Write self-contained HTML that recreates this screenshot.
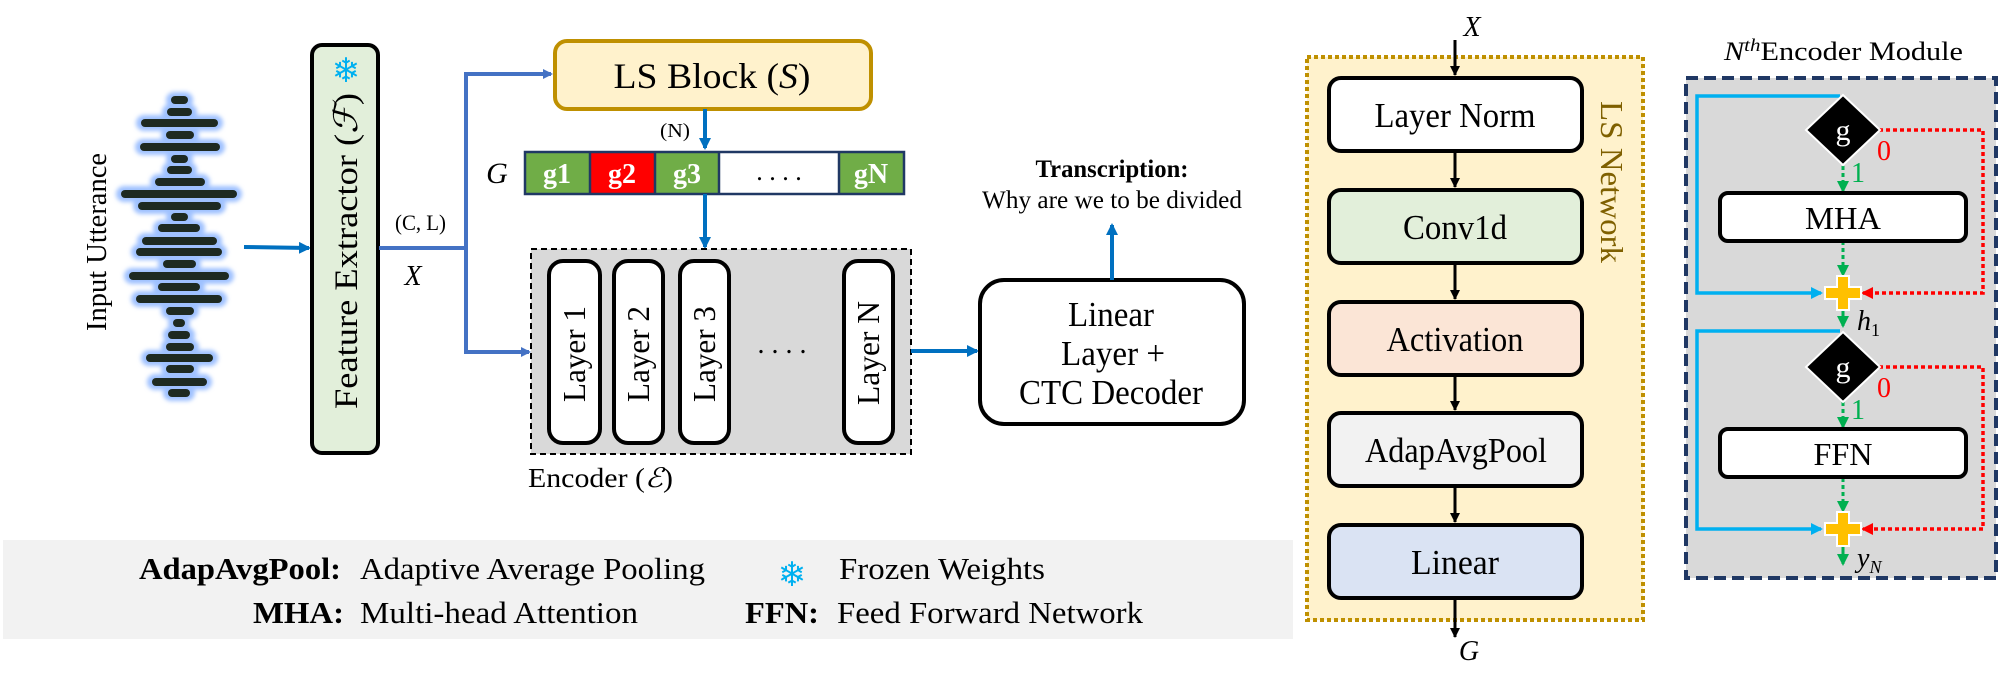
<!DOCTYPE html>
<html><head><meta charset="utf-8"><style>
html,body{margin:0;padding:0;background:#fff;}
svg{display:block;}
text{font-family:"Liberation Serif","Times New Roman",serif;}
</style></head><body>
<svg width="2000" height="675" viewBox="0 0 2000 675" xmlns="http://www.w3.org/2000/svg" font-family="Liberation Serif, serif">
<defs>
<marker id="ab" markerWidth="10" markerHeight="10" refX="8" refY="5" orient="auto" markerUnits="userSpaceOnUse"><path d="M0,0 L10,5 L0,10 z" fill="#4472c4"/></marker>
<marker id="ab2" markerWidth="12" markerHeight="12" refX="10" refY="6" orient="auto" markerUnits="userSpaceOnUse"><path d="M0,0 L12,6 L0,12 z" fill="#0070c0"/></marker>
<marker id="ak" markerWidth="10" markerHeight="10" refX="9" refY="5" orient="auto" markerUnits="userSpaceOnUse"><path d="M0,0 L10,5 L0,10 z" fill="#000"/></marker>
<marker id="ac" markerWidth="12" markerHeight="12" refX="10" refY="6" orient="auto" markerUnits="userSpaceOnUse"><path d="M0,0 L12,6 L0,12 z" fill="#00b0f0"/></marker>
<marker id="ar" markerWidth="12" markerHeight="12" refX="10" refY="6" orient="auto" markerUnits="userSpaceOnUse"><path d="M0,0 L12,6 L0,12 z" fill="#ff0000"/></marker>
<marker id="ag" markerWidth="12" markerHeight="12" refX="10" refY="6" orient="auto" markerUnits="userSpaceOnUse"><path d="M0,0 L12,6 L0,12 z" fill="#00b050"/></marker>
<filter id="blur" x="-30%" y="-30%" width="160%" height="160%"><feGaussianBlur stdDeviation="2"/></filter>
</defs>

<!-- legend band -->
<rect x="3" y="540" width="1290" height="99" fill="#f2f2f2"/>
<text x="139" y="579" font-size="31" font-weight="bold" textLength="202" lengthAdjust="spacingAndGlyphs">AdapAvgPool:</text>
<text x="360" y="579" font-size="31" textLength="345" lengthAdjust="spacingAndGlyphs">Adaptive Average Pooling</text>
<text x="792" y="586" font-size="34" fill="#00b0f0" text-anchor="middle">❄</text>
<text x="839" y="579" font-size="31" textLength="206" lengthAdjust="spacingAndGlyphs">Frozen Weights</text>
<text x="253" y="623" font-size="31" font-weight="bold" textLength="91" lengthAdjust="spacingAndGlyphs">MHA:</text>
<text x="360" y="623" font-size="31" textLength="278" lengthAdjust="spacingAndGlyphs">Multi-head Attention</text>
<text x="745" y="623" font-size="31" font-weight="bold" textLength="74" lengthAdjust="spacingAndGlyphs">FFN:</text>
<text x="837" y="623" font-size="31" textLength="306" lengthAdjust="spacingAndGlyphs">Feed Forward Network</text>

<!-- Input utterance -->
<text transform="translate(106,242) rotate(-90)" font-size="28" text-anchor="middle" textLength="178" lengthAdjust="spacingAndGlyphs">Input Utterance</text>
<g id="wave">
<g fill="#9fc1ff" filter="url(#blur)">
<rect x="166" y="92" width="27" height="16" rx="8"/><rect x="162" y="104" width="35" height="16" rx="8"/><rect x="136" y="115" width="87" height="16" rx="8"/><rect x="161" y="127" width="38" height="16" rx="8"/><rect x="135" y="139" width="90" height="16" rx="8"/><rect x="166" y="151" width="27" height="16" rx="8"/><rect x="162" y="162" width="35" height="16" rx="8"/><rect x="150" y="174" width="60" height="16" rx="8"/><rect x="116" y="186" width="126" height="16" rx="8"/><rect x="133" y="198" width="93" height="16" rx="8"/><rect x="166" y="209" width="27" height="16" rx="8"/><rect x="153" y="220" width="52" height="16" rx="8"/><rect x="137" y="233" width="85" height="16" rx="8"/><rect x="131" y="244" width="96" height="16" rx="8"/><rect x="158" y="256" width="43" height="16" rx="8"/><rect x="124" y="268" width="110" height="16" rx="8"/><rect x="153" y="279" width="52" height="16" rx="8"/><rect x="131" y="291" width="96" height="16" rx="8"/><rect x="161" y="303" width="38" height="16" rx="8"/><rect x="168" y="315" width="22" height="16" rx="8"/><rect x="163" y="327" width="32" height="16" rx="8"/><rect x="161" y="339" width="38" height="16" rx="8"/><rect x="141" y="350" width="77" height="16" rx="8"/><rect x="161" y="361" width="38" height="16" rx="8"/><rect x="147" y="374" width="65" height="16" rx="8"/><rect x="163" y="385" width="32" height="16" rx="8"/>
</g>
<g fill="#1e2a22">
<rect x="171" y="96" width="17" height="8" rx="4"/><rect x="167" y="108" width="25" height="8" rx="4"/><rect x="141" y="119" width="77" height="8" rx="4"/><rect x="166" y="131" width="28" height="8" rx="4"/><rect x="140" y="143" width="80" height="8" rx="4"/><rect x="171" y="155" width="17" height="8" rx="4"/><rect x="167" y="166" width="25" height="8" rx="4"/><rect x="155" y="178" width="50" height="8" rx="4"/><rect x="121" y="190" width="116" height="8" rx="4"/><rect x="138" y="202" width="83" height="8" rx="4"/><rect x="171" y="213" width="17" height="8" rx="4"/><rect x="158" y="224" width="42" height="8" rx="4"/><rect x="142" y="237" width="75" height="8" rx="4"/><rect x="136" y="248" width="86" height="8" rx="4"/><rect x="163" y="260" width="33" height="8" rx="4"/><rect x="129" y="272" width="100" height="8" rx="4"/><rect x="158" y="283" width="42" height="8" rx="4"/><rect x="136" y="295" width="86" height="8" rx="4"/><rect x="166" y="307" width="28" height="8" rx="4"/><rect x="173" y="319" width="12" height="8" rx="4"/><rect x="168" y="331" width="22" height="8" rx="4"/><rect x="166" y="343" width="28" height="8" rx="4"/><rect x="146" y="354" width="67" height="8" rx="4"/><rect x="166" y="365" width="28" height="8" rx="4"/><rect x="152" y="378" width="55" height="8" rx="4"/><rect x="168" y="389" width="22" height="8" rx="4"/>
</g>
</g>
<line x1="244" y1="247" x2="309" y2="248" stroke="#0070c0" stroke-width="4" marker-end="url(#ab2)"/>

<!-- Feature extractor -->
<rect x="312" y="45" width="66" height="408" rx="10" fill="#e2efda" stroke="#000" stroke-width="4"/>
<text x="346" y="82" font-size="34" fill="#00b0f0" text-anchor="middle">❄</text>
<text transform="translate(357,251) rotate(-90)" font-size="33" text-anchor="middle" textLength="316" lengthAdjust="spacingAndGlyphs">Feature Extractor (<tspan font-style="italic">ℱ</tspan>)</text>

<!-- X paths -->
<path d="M379,248 H466" stroke="#4472c4" stroke-width="4" fill="none"/>
<path d="M466,352 V74 H551" stroke="#4472c4" stroke-width="4" fill="none" marker-end="url(#ab)"/>
<path d="M466,248 V352 H529" stroke="#4472c4" stroke-width="4" fill="none" marker-end="url(#ab)"/>
<text x="395" y="230" font-size="22" textLength="51" lengthAdjust="spacingAndGlyphs">(C, L)</text>
<text x="413" y="285" font-size="28" font-style="italic" text-anchor="middle">X</text>

<!-- LS block -->
<rect x="555" y="41" width="316" height="68" rx="12" fill="#fff2cc" stroke="#bf9000" stroke-width="4"/>
<text x="712" y="88" font-size="36" text-anchor="middle" textLength="197" lengthAdjust="spacingAndGlyphs">LS Block (<tspan font-style="italic">S</tspan>)</text>
<line x1="705" y1="109" x2="705" y2="148" stroke="#0070c0" stroke-width="4" marker-end="url(#ab2)"/>
<text x="675" y="137" font-size="20" text-anchor="middle" textLength="30" lengthAdjust="spacingAndGlyphs">(N)</text>

<!-- G bar -->
<text x="497" y="183" font-size="30" font-style="italic" text-anchor="middle">G</text>
<rect x="525" y="152" width="65" height="42" fill="#70ad47"/>
<rect x="590" y="152" width="65" height="42" fill="#ff0000"/>
<rect x="655" y="152" width="64" height="42" fill="#70ad47"/>
<rect x="719" y="152" width="120" height="42" fill="#fff"/>
<rect x="839" y="152" width="65" height="42" fill="#70ad47"/>
<g stroke="#203864" stroke-width="2.5" fill="none">
<rect x="525" y="152" width="379" height="42"/>
<line x1="590" y1="152" x2="590" y2="194"/><line x1="655" y1="152" x2="655" y2="194"/><line x1="719" y1="152" x2="719" y2="194"/><line x1="839" y1="152" x2="839" y2="194"/>
</g>
<g fill="#fff" font-weight="bold" font-size="28" text-anchor="middle">
<text x="557" y="183">g1</text><text x="622" y="183">g2</text><text x="687" y="183">g3</text><text x="871" y="183">gN</text>
</g>
<text x="779" y="180" font-size="26" text-anchor="middle">. . . .</text>
<line x1="705" y1="194" x2="705" y2="247" stroke="#0070c0" stroke-width="4" marker-end="url(#ab2)"/>

<!-- Encoder -->
<rect x="531" y="249" width="380" height="205" fill="#d9d9d9" stroke="#000" stroke-width="2" stroke-dasharray="6,4"/>
<g fill="#fff" stroke="#000" stroke-width="4">
<rect x="549" y="261" width="51" height="182" rx="14"/>
<rect x="614" y="261" width="49" height="182" rx="14"/>
<rect x="680" y="261" width="49" height="182" rx="14"/>
<rect x="844" y="261" width="49" height="182" rx="14"/>
</g>
<g font-size="32" text-anchor="middle">
<text transform="translate(585,354) rotate(-90)" textLength="96" lengthAdjust="spacingAndGlyphs">Layer 1</text>
<text transform="translate(649,354) rotate(-90)" textLength="96" lengthAdjust="spacingAndGlyphs">Layer 2</text>
<text transform="translate(715,354) rotate(-90)" textLength="96" lengthAdjust="spacingAndGlyphs">Layer 3</text>
<text transform="translate(879,353) rotate(-90)" textLength="104" lengthAdjust="spacingAndGlyphs">Layer N</text>
</g>
<text x="782" y="353" font-size="28" text-anchor="middle">. . . .</text>
<text x="528" y="487" font-size="27" textLength="145" lengthAdjust="spacingAndGlyphs">Encoder  (<tspan font-style="italic">ℰ</tspan>)</text>
<line x1="911" y1="351" x2="977" y2="351" stroke="#0070c0" stroke-width="4" marker-end="url(#ab2)"/>

<!-- Linear + CTC -->
<rect x="980" y="280" width="264" height="144" rx="24" fill="#fff" stroke="#000" stroke-width="4"/>
<g font-size="35" text-anchor="middle">
<text x="1111" y="326" textLength="86" lengthAdjust="spacingAndGlyphs">Linear</text>
<text x="1113" y="365" textLength="104" lengthAdjust="spacingAndGlyphs">Layer +</text>
<text x="1111" y="404" textLength="184" lengthAdjust="spacingAndGlyphs">CTC Decoder</text>
</g>
<line x1="1112" y1="280" x2="1112" y2="225" stroke="#0070c0" stroke-width="4" marker-end="url(#ab2)"/>
<text x="1112" y="177" font-size="25" font-weight="bold" text-anchor="middle" textLength="153" lengthAdjust="spacingAndGlyphs">Transcription:</text>
<text x="1112" y="208" font-size="25" text-anchor="middle" textLength="260" lengthAdjust="spacingAndGlyphs">Why are we to be divided</text>

<!-- LS Network -->
<rect x="1307" y="57" width="336" height="563" fill="#fff2cc" stroke="#bf9000" stroke-width="4" stroke-dasharray="4,3"/>
<text x="1472" y="36" font-size="28" font-style="italic" text-anchor="middle">X</text>
<line x1="1455" y1="40" x2="1455" y2="75" stroke="#000" stroke-width="3" marker-end="url(#ak)"/>
<g stroke="#000" stroke-width="4">
<rect x="1329" y="78" width="253" height="73" rx="12" fill="#fff"/>
<rect x="1329" y="190" width="253" height="73" rx="12" fill="#e2efda"/>
<rect x="1329" y="302" width="253" height="73" rx="12" fill="#fbe5d6"/>
<rect x="1329" y="413" width="253" height="73" rx="12" fill="#f2f2f2"/>
<rect x="1329" y="525" width="253" height="73" rx="12" fill="#dae3f3"/>
</g>
<g stroke="#000" stroke-width="3" marker-end="url(#ak)">
<line x1="1455" y1="153" x2="1455" y2="187"/>
<line x1="1455" y1="265" x2="1455" y2="299"/>
<line x1="1455" y1="377" x2="1455" y2="410"/>
<line x1="1455" y1="488" x2="1455" y2="522"/>
<line x1="1455" y1="600" x2="1455" y2="637"/>
</g>
<g font-size="35" text-anchor="middle">
<text x="1455" y="127" textLength="161" lengthAdjust="spacingAndGlyphs">Layer Norm</text>
<text x="1455" y="239" textLength="104" lengthAdjust="spacingAndGlyphs">Conv1d</text>
<text x="1455" y="351" textLength="137" lengthAdjust="spacingAndGlyphs">Activation</text>
<text x="1456" y="462" textLength="182" lengthAdjust="spacingAndGlyphs">AdapAvgPool</text>
<text x="1455" y="574" textLength="88" lengthAdjust="spacingAndGlyphs">Linear</text>
</g>
<text x="1469" y="660" font-size="28" font-style="italic" text-anchor="middle">G</text>
<text transform="translate(1601,182) rotate(90)" font-size="32" fill="#7f6000" text-anchor="middle" textLength="162" lengthAdjust="spacingAndGlyphs">LS Network</text>

<!-- Nth encoder module -->
<text x="1724" y="60" font-size="26" textLength="239" lengthAdjust="spacingAndGlyphs"><tspan font-style="italic">N</tspan><tspan font-style="italic" font-size="18" dy="-9">th</tspan><tspan dy="9">Encoder Module</tspan></text>
<rect x="1686" y="78" width="310" height="500" fill="#d9d9d9" stroke="#203864" stroke-width="4" stroke-dasharray="12,6"/>

<!-- section 1 -->
<path d="M1840,96 H1697 V293 H1821" stroke="#00b0f0" stroke-width="3.5" fill="none" marker-end="url(#ac)"/>
<path d="M1879,130 H1983 V293 H1863" stroke="#ff0000" stroke-width="3.5" fill="none" stroke-dasharray="4,3" marker-end="url(#ar)"/>
<path d="M1843,166 V191" stroke="#00b050" stroke-width="3" fill="none" stroke-dasharray="4,3" marker-end="url(#ag)"/>
<path d="M1843,241 V275" stroke="#00b050" stroke-width="3" fill="none" stroke-dasharray="4,3" marker-end="url(#ag)"/>
<path d="M1843,306 V326" stroke="#00b050" stroke-width="3" fill="none" marker-end="url(#ag)"/>
<polygon points="1843,95 1880,130 1843,165 1806,130" fill="#000" stroke="#fff" stroke-width="2"/>
<text x="1843" y="140" font-size="30" fill="#fff" text-anchor="middle">g</text>
<text x="1884" y="160" font-size="28" fill="#ff0000" text-anchor="middle">0</text>
<text x="1858" y="182" font-size="28" fill="#00b050" text-anchor="middle">1</text>
<rect x="1720" y="193" width="246" height="48" rx="8" fill="#fff" stroke="#000" stroke-width="4"/>
<text x="1843" y="229" font-size="32" text-anchor="middle" textLength="76" lengthAdjust="spacingAndGlyphs">MHA</text>
<path d="M1837,276 h12 v11 h12 v12 h-12 v11 h-12 v-11 h-12 v-12 h12 z" fill="#ffc000" stroke="#fff" stroke-width="2"/>
<text x="1857" y="330" font-size="28" font-style="italic">h<tspan font-size="18" font-style="normal" dy="6">1</tspan></text>

<!-- section 2 -->
<path d="M1840,331 H1697 V529 H1821" stroke="#00b0f0" stroke-width="3.5" fill="none" marker-end="url(#ac)"/>
<path d="M1879,367 H1983 V529 H1863" stroke="#ff0000" stroke-width="3.5" fill="none" stroke-dasharray="4,3" marker-end="url(#ar)"/>
<path d="M1843,402 V427" stroke="#00b050" stroke-width="3" fill="none" stroke-dasharray="4,3" marker-end="url(#ag)"/>
<path d="M1843,478 V511" stroke="#00b050" stroke-width="3" fill="none" stroke-dasharray="4,3" marker-end="url(#ag)"/>
<path d="M1843,542 V564" stroke="#00b050" stroke-width="3" fill="none" marker-end="url(#ag)"/>
<polygon points="1843,332 1880,367 1843,402 1806,367" fill="#000" stroke="#fff" stroke-width="2"/>
<text x="1843" y="377" font-size="30" fill="#fff" text-anchor="middle">g</text>
<text x="1884" y="397" font-size="28" fill="#ff0000" text-anchor="middle">0</text>
<text x="1858" y="419" font-size="28" fill="#00b050" text-anchor="middle">1</text>
<rect x="1720" y="429" width="246" height="48" rx="8" fill="#fff" stroke="#000" stroke-width="4"/>
<text x="1843" y="465" font-size="32" text-anchor="middle" textLength="59" lengthAdjust="spacingAndGlyphs">FFN</text>
<path d="M1837,512 h12 v11 h12 v12 h-12 v11 h-12 v-11 h-12 v-12 h12 z" fill="#ffc000" stroke="#fff" stroke-width="2"/>
<text x="1857" y="567" font-size="28" font-style="italic">y<tspan font-size="18" dy="6">N</tspan></text>
</svg>
</body></html>
